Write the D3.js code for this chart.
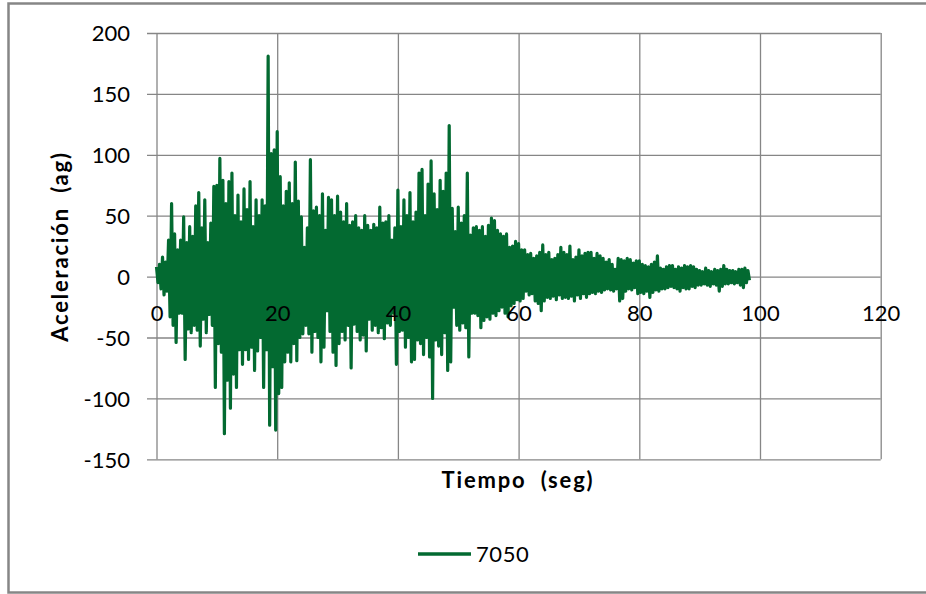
<!DOCTYPE html>
<html>
<head>
<meta charset="utf-8">
<script src="https://cdn.jsdelivr.net/npm/d3@7"></script>
<style>
  html, body { margin: 0; padding: 0; background: #fff; }
  svg { display: block; }
  text { font-family: Lato, "Open Sans", sans-serif; fill: #000; }
</style>
</head>
<body>
<svg id="chart" width="926" height="594"></svg>
<script>
// Registro 7050: aceleración (ag) contra tiempo (seg)
const seriesName = "7050";
const sampleStep = 0.5;          // s entre picos positivos consecutivos

// Picos positivos, uno cada 0.5 s desde t = 0
const peakHi = [
  8, 10, 16, 12, 30, 60, 35, 22, 30, 49,
  28, 41, 33, 58, 69, 40, 63, 28, 44, 74,
  75, 97, 79, 60, 78, 85, 50, 67, 45, 72,
  55, 78, 41, 63, 50, 63, 58, 181, 101, 104,
  119, 82, 58, 70, 77, 60, 94, 62, 49, 24,
  40, 96, 54, 57, 50, 68, 38, 65, 63, 50,
  66, 53, 45, 60, 42, 45, 50, 40, 38, 50,
  42, 38, 43, 40, 57, 44, 45, 50, 30, 40,
  71, 41, 63, 50, 69, 45, 53, 85, 88, 50,
  76, 95, 68, 55, 79, 70, 85, 124, 56, 37,
  57, 44, 50, 85, 34, 40, 41, 38, 41, 33,
  42, 48, 46, 38, 35, 33, 35, 24, 25, 29,
  27, 22, 22, 18, 19, 15, 17, 20, 26, 18,
  20, 14, 15, 18, 24, 20, 18, 25, 14, 16,
  22, 17, 19, 20, 20, 15, 19, 17, 15, 12,
  14, 10, 6, 15, 14, 13, 15, 14, 11, 13,
  13, 10, 9, 8, 10, 12, 17, 7, 6, 8,
  9, 9, 6, 8, 7, 9, 8, 9, 8, 6,
  5, 4, 7, 5, 4, 6, 5, 6, 9, 6,
  5, 5, 4, 6, 6, 7, 5
];

// Picos negativos, 0.25 s después de cada pico positivo
const peakLo = [
  -5, -10, -15, -12, -33, -40, -54, -30, -30, -68,
  -43, -46, -40, -44, -57, -35, -46, -31, -40, -91,
  -55, -62, -129, -85, -108, -80, -91, -60, -72, -60,
  -68, -58, -77, -61, -50, -91, -60, -122, -74, -126,
  -96, -91, -70, -62, -70, -55, -69, -50, -47, -40,
  -47, -62, -45, -50, -70, -58, -28, -45, -62, -73,
  -55, -45, -52, -40, -75, -39, -45, -52, -48, -61,
  -35, -44, -40, -46, -42, -51, -38, -40, -30, -72,
  -45, -44, -58, -50, -70, -68, -52, -55, -64, -50,
  -66, -100, -52, -57, -64, -46, -77, -70, -25, -40,
  -44, -38, -42, -66, -30, -30, -32, -42, -36, -33,
  -35, -30, -32, -28, -25, -30, -33, -24, -22, -19,
  -20, -18, -12, -15, -14, -20, -22, -28, -20, -17,
  -18, -16, -19, -15, -18, -17, -18, -16, -20, -15,
  -18, -14, -17, -14, -13, -14, -12, -13, -11, -10,
  -11, -12, -10, -20, -18, -12, -10, -11, -9, -14,
  -13, -14, -12, -17, -13, -11, -12, -10, -10, -9,
  -8, -9, -10, -12, -9, -10, -10, -8, -9, -7,
  -7, -6, -7, -8, -6, -7, -12, -8, -6, -6,
  -5, -6, -5, -7, -9, -5, -3
];

const xTicks = [0, 20, 40, 60, 80, 100, 120];
const yTicks = [-150, -100, -50, 0, 50, 100, 150, 200];
const xTitle = "Tiempo  (seg)";
const yTitle = "Aceleración  (ag)";

// Serie temporal: pico positivo y negativo alternados
const series = [];
peakHi.forEach((h, k) => {
  series.push({ t: k * sampleStep, v: h });
  series.push({ t: k * sampleStep + sampleStep / 2, v: peakLo[k] });
});

const svg = d3.select("#chart");
const plotLeft = 156.5, plotRight = 880.7, plotTop = 33, plotBottom = 459.3;
const gridColor = "#868686";
const lineColor = "#036a31";
const tickFmt = d => String(d);   // guion simple para los negativos

const x = d3.scaleLinear().domain([0, 120]).range([plotLeft, plotRight]);
const y = d3.scaleLinear().domain([-150, 200]).range([plotBottom, plotTop]);

// Marco exterior del gráfico
svg.append("rect")
  .attr("x", 8.5).attr("y", 3.5)
  .attr("width", 930).attr("height", 589)
  .attr("fill", "#fff")
  .attr("stroke", gridColor).attr("stroke-width", 2.5);

// Líneas de división horizontales + etiquetas del eje Y
const yAxis = svg.append("g")
  .attr("transform", `translate(${plotRight},0)`)
  .call(d3.axisLeft(y).tickValues(yTicks).tickSize(plotRight - 147).tickPadding(17).tickFormat(tickFmt));
yAxis.select(".domain").remove();
yAxis.selectAll("line").attr("stroke", gridColor).attr("stroke-width", 1.3);
yAxis.selectAll("text")
  .attr("font-size", 22).attr("font-family", "Lato, sans-serif").attr("fill", "#000")
  .attr("dy", "0.36em");

// Líneas de división verticales
const xGrid = svg.append("g")
  .attr("transform", `translate(0,${plotTop})`)
  .call(d3.axisBottom(x).tickValues(xTicks).tickSize(plotBottom - plotTop).tickFormat(""));
xGrid.select(".domain").remove();
xGrid.selectAll("line").attr("stroke", gridColor).attr("stroke-width", 1.3);

// Serie
const line = d3.line().x(d => x(d.t)).y(d => y(d.v));
svg.append("path")
  .datum(series)
  .attr("d", line)
  .attr("fill", "none")
  .attr("stroke", lineColor)
  .attr("stroke-width", 3.2)
  .attr("stroke-linejoin", "round");

// Etiquetas del eje X sobre la línea de cero
const xLabels = svg.append("g")
  .attr("transform", `translate(0,${y(0)})`)
  .call(d3.axisBottom(x).tickValues(xTicks).tickSize(0).tickFormat(tickFmt));
xLabels.select(".domain").remove();
xLabels.selectAll("text")
  .attr("font-size", 22).attr("font-family", "Lato, sans-serif").attr("fill", "#000")
  .attr("y", 44).attr("dy", null);

// Títulos de ejes
svg.append("text")
  .attr("x", 518).attr("y", 488)
  .attr("text-anchor", "middle")
  .attr("font-size", 22).attr("font-weight", "bold")
  .attr("letter-spacing", 1.8)
  .style("white-space", "pre")
  .text(xTitle);

svg.append("text")
  .attr("transform", "translate(68,246.5) rotate(-90)")
  .attr("text-anchor", "middle")
  .attr("font-size", 22).attr("font-weight", "bold")
  .attr("letter-spacing", 1.8)
  .style("white-space", "pre")
  .text(yTitle);

// Leyenda
const legend = svg.append("g").attr("transform", "translate(418,554)");
legend.append("line")
  .attr("x1", 0).attr("x2", 53).attr("y1", 0).attr("y2", 0)
  .attr("stroke", lineColor).attr("stroke-width", 3.3);
legend.append("text")
  .attr("x", 58).attr("y", 7.5)
  .attr("font-size", 22)
  .attr("letter-spacing", 0.6)
  .text(seriesName);
</script>
</body>
</html>
